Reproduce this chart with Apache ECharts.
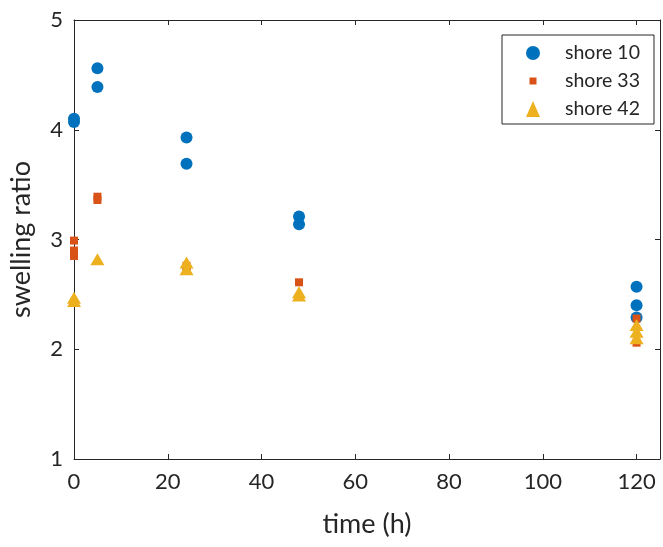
<!DOCTYPE html>
<html><head><meta charset="utf-8">
<script src="https://cdn.jsdelivr.net/npm/echarts@6/dist/echarts.min.js"></script>
<style>html,body{margin:0;padding:0;background:#fff}#c{width:663px;height:547px}</style>
</head><body><div id="c"></div>
<script>
// x = time (h), y = swelling ratio
const shore10 = [[0,4.10],[0,4.07],[5,4.56],[5,4.39],[24,3.93],[24,3.69],[48,3.21],[48,3.14],[120,2.57],[120,2.40],[120,2.29]];
const shore33 = [[0,2.99],[0,2.90],[0,2.85],[5,3.39],[5,3.36],[24,2.76],[24,2.72],[48,2.61],[120,2.28],[120,2.06]];
const shore42 = [[0,2.47],[0,2.44],[5,2.82],[24,2.79],[24,2.73],[48,2.52],[48,2.49],[120,2.22],[120,2.16],[120,2.10]];
const xTicks = [0,20,40,60,80,100,120];
const seriesNames = ['shore 10','shore 33','shore 42'];

const font = 'Lato';
const axisColor = '#262626';
const chart = echarts.init(document.getElementById('c'));
const baseX = {type:'value', min:0, max:125, interval:20, splitLine:{show:false},
  axisLine:{show:true, onZero:false, lineStyle:{color:axisColor,width:1}},
  axisTick:{show:true, inside:true, length:5, lineStyle:{color:axisColor}}};
const baseY = {type:'value', min:1, max:5, interval:1, splitLine:{show:false},
  axisLine:{show:true, onZero:false, lineStyle:{color:axisColor,width:1}},
  axisTick:{show:true, inside:true, length:5, lineStyle:{color:axisColor}}};
chart.setOption({
  animation:false,
  backgroundColor:'#fff',
  grid:{left:74, right:3, top:20, bottom:88, containLabel:false},
  xAxis:[
    Object.assign({}, baseX, {position:'bottom', name:'time (h)', nameLocation:'middle', nameGap:52,
      nameTextStyle:{fontFamily:font, fontSize:27, color:axisColor},
      axisLabel:{margin:12, fontFamily:font, fontSize:22, color:axisColor,
        formatter:v => xTicks.indexOf(v) >= 0 ? String(v) : ''}}),
    Object.assign({}, baseX, {position:'top', axisLabel:{show:false}})
  ],
  yAxis:[
    Object.assign({}, baseY, {position:'left', name:'swelling ratio', nameLocation:'middle', nameGap:39,
      nameTextStyle:{fontFamily:font, fontSize:27, color:axisColor},
      axisLabel:{margin:11, fontFamily:font, fontSize:22, color:axisColor}}),
    Object.assign({}, baseY, {position:'right', axisLabel:{show:false}})
  ],
  legend:{
    orient:'vertical', left:502, top:35,
    backgroundColor:'#fff', borderColor:'#262626', borderWidth:1,
    padding:[8,14,5,24], itemGap:8, itemWidth:14, itemHeight:16,
    textStyle:{fontFamily:font, fontSize:19.5, lineHeight:18, color:'#262626', padding:[0,0,0,20]},
    data:[
      {name:seriesNames[0], icon:'circle'},
      {name:seriesNames[1], icon:'path://M0,0L0.01,0M16,16L16.01,16M4,4L12,4L12,12L4,12Z'},
      {name:seriesNames[2], icon:'triangle'}
    ]
  },
  series:[
    {name:seriesNames[0], type:'scatter', data:shore10, symbol:'circle', symbolSize:12, itemStyle:{color:'#0072BD', opacity:1}, z:2},
    {name:seriesNames[1], type:'scatter', data:shore33, symbol:'rect', symbolSize:8, itemStyle:{color:'#D95319', opacity:1}, z:3},
    {name:seriesNames[2], type:'scatter', data:shore42, symbol:'triangle', symbolSize:[14,12], itemStyle:{color:'#EDB120', opacity:1}, z:4}
  ]
});
</script></body></html>
